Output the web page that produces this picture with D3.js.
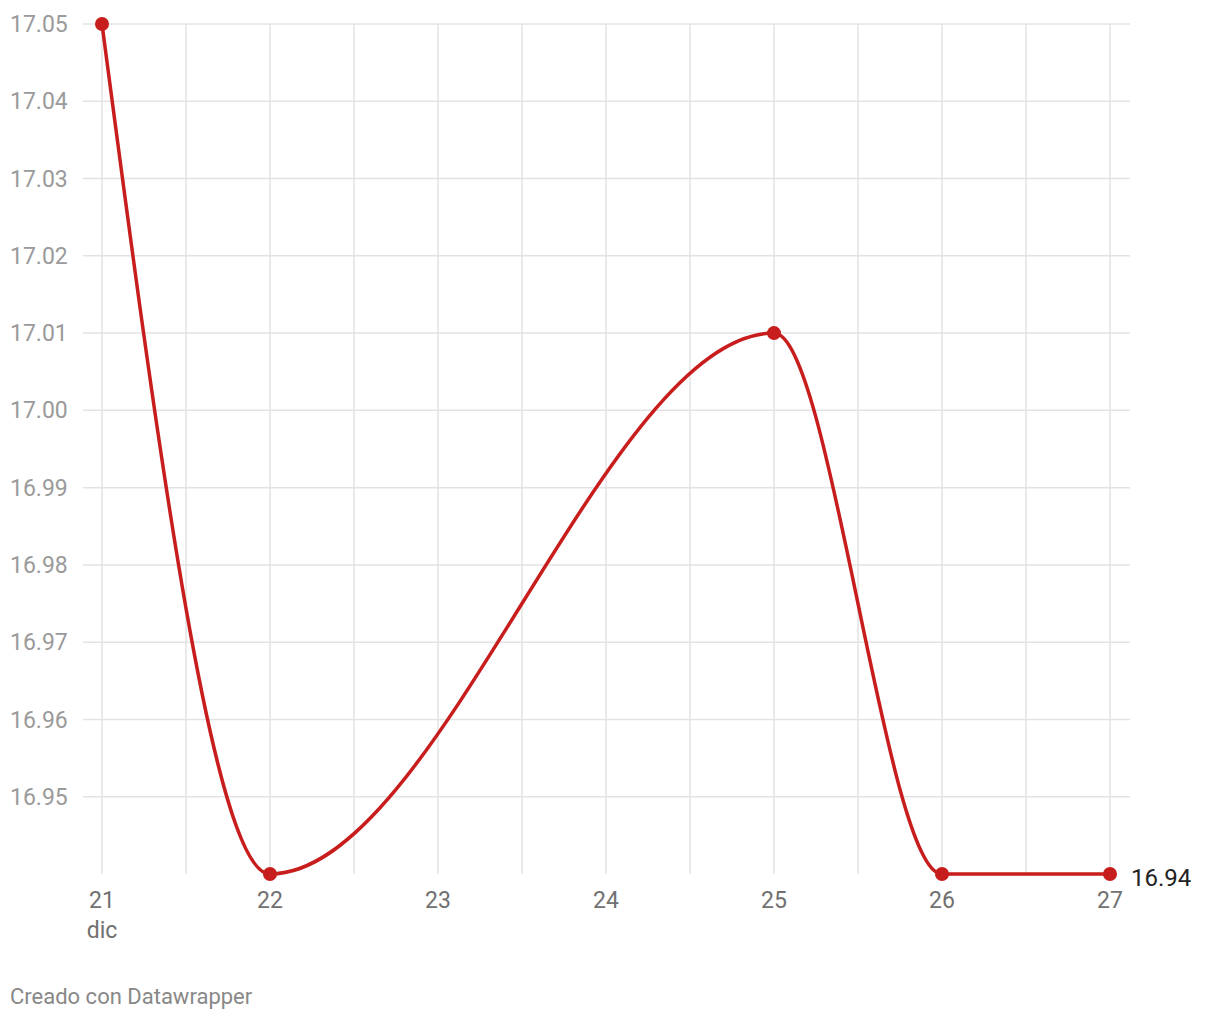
<!DOCTYPE html>
<html><head><meta charset="utf-8">
<script src="https://cdn.jsdelivr.net/npm/d3@7"></script>
<style>body{margin:0;background:#fff;font-family:Roboto,sans-serif}</style>
</head><body>
<svg id="c" width="1220" height="1020"></svg>
<script>
const days = [21, 22, 25, 26, 27];
const values = [17.05, 16.94, 17.01, 16.94, 16.94];
const yTicks = [16.95, 16.96, 16.97, 16.98, 16.99, 17.00, 17.01, 17.02, 17.03, 17.04, 17.05];
const xTicks = [21, 22, 23, 24, 25, 26, 27];
const xMinor = [21.5, 22.5, 23.5, 24.5, 25.5, 26.5];
const lastLabel = "16.94";
const footer = "Creado con Datawrapper";

const svg = d3.select("#c");
const x = d3.scaleLinear().domain([21, 27]).range([102, 1110]);
const y = d3.scaleLinear().domain([16.94, 17.05]).range([874, 24]);

// horizontal grid
svg.append("g").selectAll("line").data(yTicks).join("line")
  .attr("x1", 83).attr("x2", 1130)
  .attr("y1", d => y(d)).attr("y2", d => y(d))
  .attr("stroke", "#e3e3e3").attr("stroke-width", 1.5);
// vertical grid
svg.append("g").selectAll("line").data(xTicks.concat(xMinor)).join("line")
  .attr("x1", d => x(d)).attr("x2", d => x(d))
  .attr("y1", 24).attr("y2", 874)
  .attr("stroke", "#e3e3e3").attr("stroke-width", 1.5);

// y labels
svg.append("g").selectAll("text").data(yTicks).join("text")
  .attr("x", 10).attr("y", d => y(d)).attr("dy", "0.35em")
  .attr("font-size", 23).attr("fill", "#9a9a9a")
  .text(d => d.toFixed(2));

// x labels
svg.append("g").selectAll("text").data(xTicks).join("text")
  .attr("x", d => x(d)).attr("y", 908).attr("text-anchor", "middle")
  .attr("font-size", 23).attr("fill", "#707070")
  .text(d => d);
svg.append("text").attr("x", x(21)).attr("y", 938).attr("text-anchor", "middle")
  .attr("font-size", 23).attr("fill", "#707070").text("dic");

const data = days.map((d, i) => ({d, v: values[i]}));
const line = d3.line().x(p => x(p.d)).y(p => y(p.v)).curve(d3.curveMonotoneX);
svg.append("path").datum(data).attr("d", line)
  .attr("fill", "none").attr("stroke", "#c71e1d").attr("stroke-width", 3.5);
svg.append("g").selectAll("circle").data(data).join("circle")
  .attr("cx", p => x(p.d)).attr("cy", p => y(p.v)).attr("r", 7)
  .attr("fill", "#c71e1d");

svg.append("text").attr("x", 1131).attr("y", 886)
  .attr("font-size", 24).attr("fill", "#222").text(lastLabel);

svg.append("text").attr("x", 10).attr("y", 1004)
  .attr("font-size", 22).attr("fill", "#888").text(footer);
</script>
</body></html>
